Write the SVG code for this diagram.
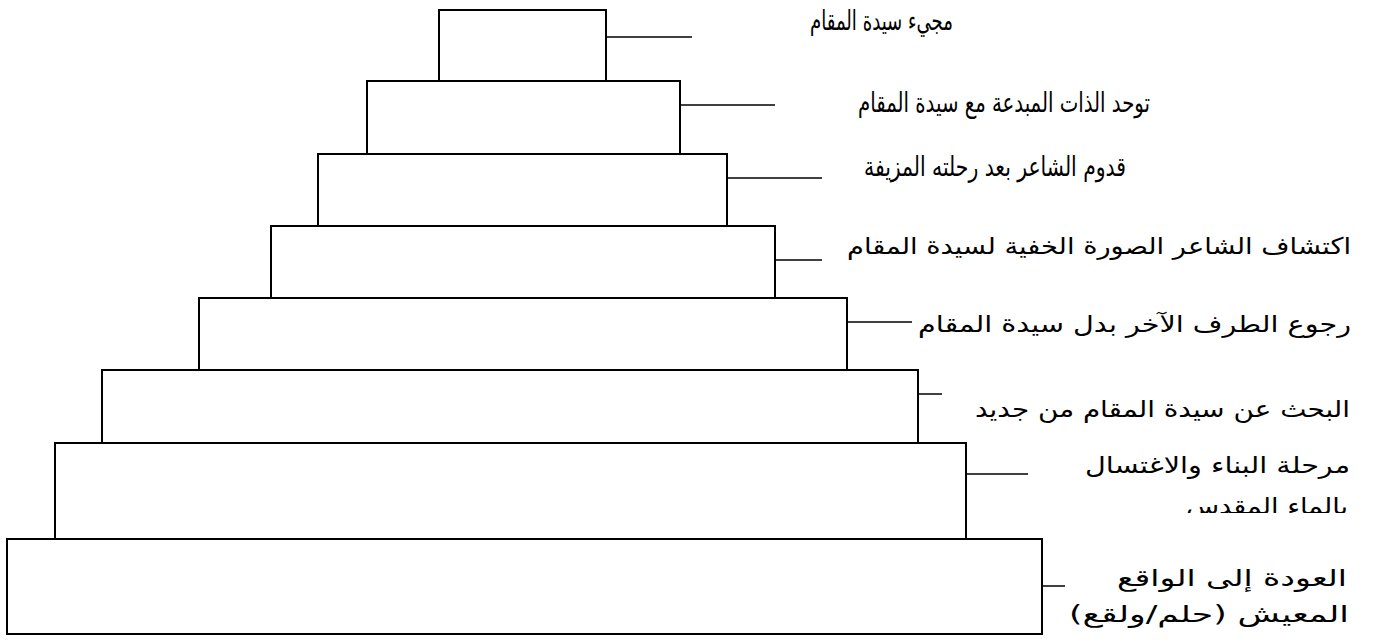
<svg xmlns="http://www.w3.org/2000/svg" width="1375" height="642" viewBox="0 0 1375 642">
<style>
.box{fill:#fff;stroke:#000;stroke-width:2}
.ln{stroke:#000;stroke-width:1.5;fill:none}
.t{font-family:"DejaVu Sans","Noto Sans",sans-serif;font-size:23px;fill:#000;text-anchor:start;direction:rtl}
.s{font-size:27px}
</style>
<defs>
<clipPath id="cl7"><rect x="1000" y="440" width="375" height="73"/></clipPath>
</defs>
<rect width="1375" height="642" fill="#fff"/>
<g id="node8"><rect class="box" x="7" y="539" width="1035" height="95"/><text class="t" x="1347" y="586" textLength="230" lengthAdjust="spacingAndGlyphs">العودة إلى الواقع</text><text class="t" x="1349" y="622" textLength="280" lengthAdjust="spacingAndGlyphs">المعيش (حلم/ولقع)</text></g>
<g id="node7"><rect class="box" x="55" y="443" width="911" height="96"/><text class="t" x="1350" y="473" textLength="265" lengthAdjust="spacingAndGlyphs">مرحلة البناء والاغتسال</text><text class="t" x="1348" y="514" textLength="162" lengthAdjust="spacingAndGlyphs" clip-path="url(#cl7)">بالماء المقدس</text></g>
<g id="node6"><rect class="box" x="102" y="370" width="816" height="73"/><text class="t" x="1350" y="417" textLength="375" lengthAdjust="spacingAndGlyphs">البحث عن سيدة المقام من جديد</text></g>
<g id="node5"><rect class="box" x="199" y="298" width="648" height="72"/><text class="t" x="1351" y="332" textLength="433" lengthAdjust="spacingAndGlyphs">رجوع الطرف الآخر بدل سيدة المقام</text></g>
<g id="node4"><rect class="box" x="271" y="226" width="504" height="72"/><text class="t" x="1351" y="254" textLength="504" lengthAdjust="spacingAndGlyphs">اكتشاف الشاعر الصورة الخفية لسيدة المقام</text></g>
<g id="node3"><rect class="box" x="318" y="154" width="409" height="72"/><text class="t s" x="1126" y="176" textLength="262" lengthAdjust="spacingAndGlyphs">قدوم الشاعر بعد رحلته المزيفة</text></g>
<g id="node2"><rect class="box" x="367" y="81" width="313" height="73"/><text class="t s" x="1150" y="112" textLength="292" lengthAdjust="spacingAndGlyphs">توحد الذات المبدعة مع سيدة المقام</text></g>
<g id="node1"><rect class="box" x="439" y="10" width="167" height="71"/><text class="t s" x="953" y="30" textLength="143" lengthAdjust="spacingAndGlyphs">مجيء سيدة المقام</text></g>
<g id="connectors">
<line class="ln" x1="606" y1="37" x2="692" y2="37"/>
<line class="ln" x1="680" y1="105" x2="775" y2="105"/>
<line class="ln" x1="727" y1="178" x2="822" y2="178"/>
<line class="ln" x1="775" y1="260" x2="822" y2="260"/>
<line class="ln" x1="847" y1="322" x2="912" y2="322"/>
<line class="ln" x1="918" y1="394" x2="942" y2="394"/>
<line class="ln" x1="966" y1="474" x2="1028" y2="474"/>
<line class="ln" x1="1042" y1="586" x2="1065" y2="586"/>
</g>
</svg>
